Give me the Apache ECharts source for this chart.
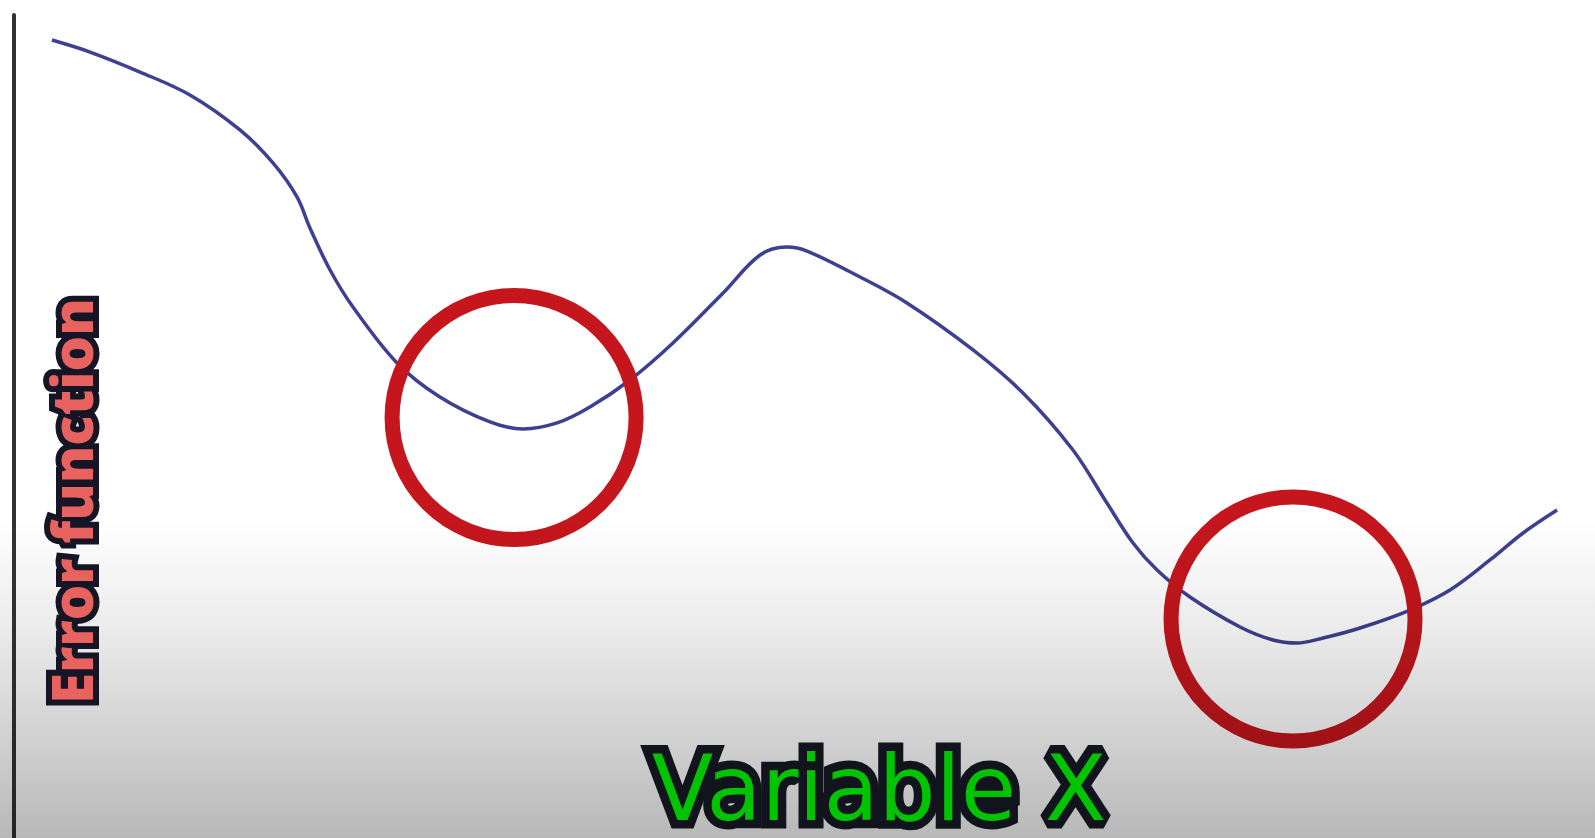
<!DOCTYPE html>
<html lang="en">
<head>
    <meta charset="UTF-8">
    <title>Error function vs Variable X</title>
    <script src="https://cdn.jsdelivr.net/npm/echarts@6/dist/echarts.min.js"></script>
    <style>
        html, body {
            margin: 0;
            padding: 0;
            background: #ffffff;
        }

        #main {
            width: 1595px;
            height: 838px;
        }
    </style>
</head>
<body>
<div id="main"></div>
<script>
    // curve, both axes on a 0..100 scale
    var curveX = [2.40, 4.81, 7.97, 11.13, 14.29, 16.38, 17.90, 18.72, 19.99, 21.44,
        24.23, 26.94, 30.11, 32.19, 34.35, 36.43, 38.96, 41.68, 44.85, 47.19,
        48.89, 50.16, 53.51, 56.48, 60.66, 63.82, 66.98, 69.13, 70.78, 72.30,
        74.38, 77.55, 79.63, 81.15, 82.80, 85.14, 88.30, 90.83, 93.36, 95.45, 97.60];
    var curveY = [96.96, 95.50, 93.07, 90.28, 86.03, 82.02, 77.89, 74.12, 69.02, 64.52,
        57.72, 53.58, 50.55, 49.70, 50.43, 52.37, 55.65, 60.15, 66.22, 70.84,
        71.81, 71.32, 68.17, 65.01, 59.30, 54.07, 47.14, 40.70, 35.84, 32.56,
        29.28, 25.64, 24.06, 23.69, 24.30, 25.52, 27.70, 30.13, 33.78, 37.06, 39.85];

    // the two circled minima
    var minimaX = [31.63, 80.90];
    var minimaY = [51.09, 26.61];

    var yLabel = 'Error function';
    var xLabel = 'Variable X';

    var curve = curveX.map(function (x, i) {
        return [x, curveY[i]];
    });
    var minima = minimaX.map(function (x, i) {
        return [x, minimaY[i]];
    });

    // outlined caption: dark stroke layer underneath, coloured fill on top
    function caption(text, x, y, rot, font, weight, size, fill, stroke, lw) {
        var base = {
            text: text,
            fontFamily: font,
            fontWeight: weight,
            fontSize: size,
            align: 'center',
            verticalAlign: 'middle'
        };
        return [
            {
                type: 'text', silent: true, z: 60, x: x, y: y, rotation: rot,
                style: Object.assign({}, base, {fill: stroke, stroke: stroke, lineWidth: lw, lineJoin: 'round'})
            },
            {
                type: 'text', silent: true, z: 61, x: x, y: y, rotation: rot,
                style: Object.assign({}, base, {fill: fill})
            }
        ];
    }

    var myChart = echarts.init(document.getElementById('main'));
    var option = {
        animation: false,
        backgroundColor: '#ffffff',
        grid: {left: 14, right: 0, top: 15, bottom: 0},
        xAxis: {
            type: 'value',
            min: 0,
            max: 100,
            show: false
        },
        yAxis: {
            type: 'value',
            min: 0,
            max: 100,
            axisLine: {show: true, lineStyle: {color: '#333333', width: 4}},
            axisTick: {show: false},
            axisLabel: {show: false},
            splitLine: {show: false}
        },
        series: [
            {
                type: 'line',
                data: curve,
                smooth: 0.35,
                smoothConstraint: false,
                showSymbol: false,
                symbol: 'none',
                silent: true,
                z: 3,
                lineStyle: {color: '#3e4191', width: 3.5}
            },
            {
                type: 'scatter',
                data: minima,
                symbol: 'circle',
                symbolSize: 244,
                silent: true,
                z: 4,
                itemStyle: {
                    color: 'rgba(0,0,0,0)',
                    borderColor: '#c4161c',
                    borderWidth: 15,
                    opacity: 1
                }
            }
        ],
        graphic: [
            {
                // grey shading that darkens the lower part of the frame
                type: 'rect',
                silent: true,
                z: 50,
                shape: {x: 0, y: 0, width: 1595, height: 838},
                style: {
                    fill: {
                        type: 'linear', x: 0, y: 0, x2: 0, y2: 1,
                        colorStops: [
                            {offset: 0, color: 'rgba(0,0,0,0)'},
                            {offset: 0.62, color: 'rgba(0,0,0,0)'},
                            {offset: 0.75, color: 'rgba(0,0,0,0.08)'},
                            {offset: 0.88, color: 'rgba(0,0,0,0.18)'},
                            {offset: 1, color: 'rgba(0,0,0,0.28)'}
                        ]
                    }
                }
            }
        ].concat(
            caption(yLabel, 77, 501, Math.PI / 2, 'Open Sans', 800, 56, '#e8625f', '#151526', 12),
            caption(xLabel, 879, 797, 0, 'DejaVu Sans', 'normal', 90, '#00c400', '#11141c', 17)
        )
    };
    myChart.setOption(option);
</script>
</body>
</html>
